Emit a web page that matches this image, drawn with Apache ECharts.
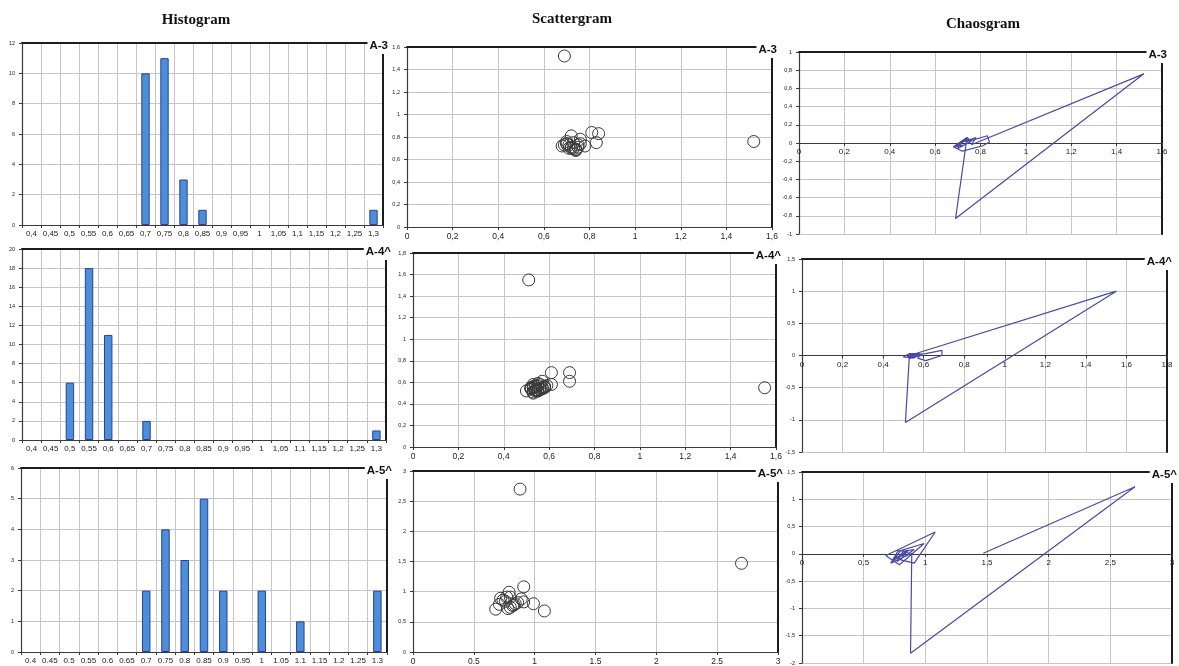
<!DOCTYPE html>
<html>
<head>
<meta charset="utf-8">
<title>Histogram / Scattergram / Chaosgram</title>
<script src="https://cdn.jsdelivr.net/npm/echarts@6/dist/echarts.min.js"></script>
<style>
  html, body { margin: 0; padding: 0; background: #fff; }
  #chart { width: 1179px; height: 666px; }
</style>
</head>
<body>
<div id="chart"></div>
<script>
// ---- data ----------------------------------------------------------------
// histogram bins (RR interval, s)
const binLabels = ['0.4','0.45','0.5','0.55','0.6','0.65','0.7','0.75','0.8','0.85','0.9','0.95','1','1.05','1.1','1.15','1.2','1.25','1.3'];

// counts per bin
const histA3 = [0,0,0,0,0,0,10,11,3,1,0,0,0,0,0,0,0,0,1];
const histA4 = [0,0,6,18,11,0,2,0,0,0,0,0,0,0,0,0,0,0,1];
const histA5 = [0,0,0,0,0,0,2,4,3,5,2,0,2,0,1,0,0,0,2];

// scattergram points: [RR(n), RR(n+1)]
const scatterA3 = [[0.72,0.70],[0.70,0.74],[0.74,0.69],[0.69,0.73],[0.73,0.75],[0.75,0.71],[0.71,0.70],[0.70,0.76],[0.76,0.74],[0.74,0.68],[0.68,0.72],[0.72,0.81],[0.81,0.84],[0.84,0.83],[0.83,0.75],[0.75,0.73],[0.73,0.70],[0.70,0.74],[0.74,0.69],[0.69,1.52],[1.52,0.76],[0.76,0.78],[0.78,0.72],[0.72,0.71],[0.71,0.73]];
const scatterA4 = [[0.53,0.55],[0.55,0.52],[0.52,0.54],[0.54,0.56],[0.56,0.53],[0.53,0.50],[0.50,0.52],[0.52,0.55],[0.55,0.57],[0.57,0.54],[0.54,0.53],[0.53,0.58],[0.58,0.56],[0.56,0.54],[0.54,0.52],[0.52,0.55],[0.55,0.59],[0.59,0.57],[0.57,0.61],[0.61,0.69],[0.69,0.69],[0.69,0.61],[0.61,0.58],[0.58,0.56],[0.56,0.54],[0.54,0.53],[0.53,0.51],[0.51,1.55],[1.55,0.55],[0.55,0.53],[0.53,0.56],[0.56,0.58],[0.58,0.55],[0.55,0.52],[0.52,0.54],[0.54,0.57],[0.57,0.55]];
const scatterA5 = [[0.76,0.84],[0.84,0.80],[0.80,0.91],[0.91,1.08],[1.08,0.68],[0.68,0.71],[0.71,0.79],[0.79,0.99],[0.99,0.80],[0.80,0.74],[0.74,0.86],[0.86,0.82],[0.82,0.77],[0.77,0.91],[0.91,0.83],[0.83,0.78],[0.78,0.72],[0.72,0.89],[0.89,0.88],[0.88,2.70],[2.70,1.47]];

// chaosgram path: [RR(n), RR(n) - RR(n+1)]
const chaosA3 = [[0.72,0.02],[0.70,-0.04],[0.74,0.05],[0.69,-0.04],[0.73,-0.02],[0.75,0.04],[0.71,0.01],[0.70,-0.06],[0.76,0.02],[0.74,0.06],[0.68,-0.04],[0.72,-0.09],[0.81,-0.03],[0.84,0.01],[0.83,0.08],[0.75,0.02],[0.73,0.03],[0.70,-0.04],[0.74,0.05],[0.69,-0.83],[1.52,0.76],[0.76,-0.02],[0.78,0.06],[0.72,0.01],[0.71,-0.02]];
const chaosA4 = [[0.53,-0.02],[0.55,0.03],[0.52,-0.02],[0.54,-0.02],[0.56,0.03],[0.53,0.03],[0.50,-0.02],[0.52,-0.03],[0.55,-0.02],[0.57,0.03],[0.54,0.01],[0.53,-0.05],[0.58,0.02],[0.56,0.02],[0.54,0.02],[0.52,-0.03],[0.55,-0.04],[0.59,0.02],[0.57,-0.04],[0.61,-0.08],[0.69,0.00],[0.69,0.08],[0.61,0.03],[0.58,0.02],[0.56,0.02],[0.54,0.01],[0.53,0.02],[0.51,-1.04],[1.55,1.00],[0.55,0.02],[0.53,-0.03],[0.56,-0.02],[0.58,0.03],[0.55,0.03],[0.52,-0.02],[0.54,-0.03],[0.57,0.02]];
const chaosA5 = [[0.76,-0.08],[0.84,0.04],[0.80,-0.11],[0.91,-0.17],[1.08,0.40],[0.68,-0.03],[0.71,-0.08],[0.79,-0.20],[0.99,0.19],[0.80,0.06],[0.74,-0.12],[0.86,0.04],[0.82,0.05],[0.77,-0.14],[0.91,0.08],[0.83,0.05],[0.78,0.06],[0.72,-0.17],[0.89,0.01],[0.88,-1.82],[2.70,1.23],[1.47,0.01]];

// record names and column headings
const recordTags = ['A-3', 'A-4^', 'A-5^'];
const columnHeads = ['Histogram', 'Scattergram', 'Chaosgram'];

// ---- helpers ---------------------------------------------------------------
const LABEL_FONT = '"Liberation Sans", Arial, Helvetica, sans-serif';
const HEAD_FONT = '"Liberation Serif", "Times New Roman", serif';
const GRID_COLOR = '#c6c6c6';
const AXIS_COLOR = '#3a3a3a';
const FRAME_COLOR = '#1c1c1c';

const comma = v => String(+(+v).toFixed(2)).replace('.', ',');
const dot = v => String(+(+v).toFixed(2));

// panel layout: [left, top, width, height] plus axis ranges
const panels = [
  { kind: 'hist',    tag: 0, box: [22, 43, 361, 182],  counts: histA3, y: [0, 12, 2],  xFmt: comma, yFmt: comma },
  { kind: 'hist',    tag: 1, box: [22, 249, 364, 191], counts: histA4, y: [0, 20, 2],  xFmt: comma, yFmt: comma },
  { kind: 'hist',    tag: 2, box: [21, 468, 366, 184], counts: histA5, y: [0, 6, 1],   xFmt: dot,   yFmt: comma },
  { kind: 'scatter', tag: 0, box: [407, 47, 365, 180], pts: scatterA3, x: [0, 1.6, 0.2], y: [0, 1.6, 0.2], xFmt: comma, yFmt: comma },
  { kind: 'scatter', tag: 1, box: [413, 253, 363, 194], pts: scatterA4, x: [0, 1.6, 0.2], y: [0, 1.8, 0.2], xFmt: comma, yFmt: comma },
  { kind: 'scatter', tag: 2, box: [413, 471, 365, 181], pts: scatterA5, x: [0, 3, 0.5],   y: [0, 3, 0.5],   xFmt: dot,   yFmt: comma },
  { kind: 'chaos',   tag: 0, box: [799, 52, 363, 182],  pts: chaosA3, x: [0, 1.6, 0.2], y: [-1, 1, 0.2],    xFmt: comma, yFmt: comma },
  { kind: 'chaos',   tag: 1, box: [802, 259, 365, 193], pts: chaosA4, x: [0, 1.8, 0.2], y: [-1.5, 1.5, 0.5], xFmt: comma, yFmt: comma },
  { kind: 'chaos',   tag: 2, box: [802, 472, 370, 191], pts: chaosA5, x: [0, 3, 0.5],   y: [-2, 1.5, 0.5],   xFmt: comma, yFmt: comma }
];

const grid = [], xAxis = [], yAxis = [], series = [], graphic = [];
const frameX = [], frameY = [];

const labelStyle = (size, fmt, margin) => ({
  show: true, fontSize: size, color: '#222', fontFamily: LABEL_FONT, margin: margin, formatter: fmt
});

panels.forEach((p, i) => {
  const [l, t, w, h] = p.box;
  grid.push({ left: l, top: t, width: w, height: h, containLabel: false, outerBoundsMode: 'none', show: false });

  // x axis
  if (p.kind === 'hist') {
    xAxis.push({
      gridIndex: i, type: 'category', data: binLabels, boundaryGap: true, position: 'bottom',
      axisLine: { show: true, onZero: false, lineStyle: { color: AXIS_COLOR, width: 1.2 } },
      axisTick: { show: true, interval: 0, length: 3, lineStyle: { color: AXIS_COLOR } },
      axisLabel: Object.assign(labelStyle(8, v => p.xFmt(v), 5), { interval: 0 }),
      splitLine: { show: true, interval: 0, lineStyle: { color: GRID_COLOR, width: 1 } }
    });
  } else {
    // chaosgram: the whole x axis (line, ticks, labels) sits on y = 0
    const lift = p.kind === 'chaos' ? -(0 - p.y[0]) / (p.y[1] - p.y[0]) * h : 0;
    xAxis.push({
      gridIndex: i, type: 'value', min: p.x[0], max: p.x[1], interval: p.x[2], position: 'bottom', offset: lift,
      axisLine: { show: true, onZero: false, lineStyle: { color: AXIS_COLOR, width: 1.2 } },
      axisTick: { show: true, length: 3, lineStyle: { color: AXIS_COLOR } },
      axisLabel: labelStyle(p.kind === 'chaos' ? 8 : 8.5, v => p.xFmt(v), 5),
      splitLine: { show: true, lineStyle: { color: GRID_COLOR, width: 1 } }
    });
  }

  // y axis
  const yr = p.y;
  yAxis.push({
    gridIndex: i, type: 'value', min: yr[0], max: yr[1], interval: yr[2], position: 'left',
    axisLine: { show: true, onZero: false, lineStyle: { color: AXIS_COLOR, width: 1.2 } },
    axisTick: { show: true, length: 3, lineStyle: { color: AXIS_COLOR } },
    axisLabel: labelStyle(5.5, v => p.yFmt(v), 7),
    splitLine: { show: true, lineStyle: { color: GRID_COLOR, width: 1 } }
  });

  // heavy frame on the top and right edges
  frameX.push({
    gridIndex: i, type: 'value', min: 0, max: 1, position: 'top',
    axisLine: { show: true, onZero: false, lineStyle: { color: FRAME_COLOR, width: 2 } },
    axisTick: { show: false }, axisLabel: { show: false }, splitLine: { show: false }
  });
  frameY.push({
    gridIndex: i, type: 'value', min: 0, max: 1, position: 'right',
    axisLine: { show: true, onZero: false, lineStyle: { color: FRAME_COLOR, width: 2 } },
    axisTick: { show: false }, axisLabel: { show: false }, splitLine: { show: false }
  });

  // data series
  if (p.kind === 'hist') {
    series.push({
      type: 'bar', xAxisIndex: i, yAxisIndex: i, barWidth: '44%',
      data: p.counts.map(c => (c === 0 ? '-' : c)),
      itemStyle: { color: '#4a8fd8', borderColor: '#2f3d98', borderWidth: 1 }
    });
  } else if (p.kind === 'scatter') {
    series.push({
      type: 'scatter', xAxisIndex: i, yAxisIndex: i, data: p.pts,
      symbol: 'circle', symbolSize: 12,
      itemStyle: { color: 'rgba(0,0,0,0)', borderColor: '#3a3a3a', borderWidth: 1, opacity: 1 }
    });
  } else {
    series.push({
      type: 'line', xAxisIndex: i, yAxisIndex: i, data: p.pts,
      showSymbol: false, symbol: 'none', smooth: false,
      lineStyle: { color: '#4949a9', width: 1.2 }
    });
  }

  // record tag at the top-right corner of each panel
  graphic.push({
    type: 'text', x: l + w + 7, y: t + 3, z: 100,
    style: {
      text: recordTags[p.tag], fill: '#111', align: 'right', verticalAlign: 'middle',
      font: 'bold 11.5px ' + LABEL_FONT, backgroundColor: '#fff', padding: [2, 2]
    }
  });
});

// column headings
[[196, 20], [572, 19], [983, 24]].forEach(([cx, cy], k) => {
  graphic.push({
    type: 'text', x: cx, y: cy, z: 100,
    style: { text: columnHeads[k], fill: '#111', align: 'center', verticalAlign: 'middle', font: 'bold 15px ' + HEAD_FONT }
  });
});

const chart = echarts.init(document.getElementById('chart'), null, { renderer: 'canvas' });
chart.setOption({
  animation: false,
  backgroundColor: '#fff',
  grid: grid,
  xAxis: xAxis.concat(frameX),
  yAxis: yAxis.concat(frameY),
  series: series,
  graphic: graphic
});
</script>
</body>
</html>
